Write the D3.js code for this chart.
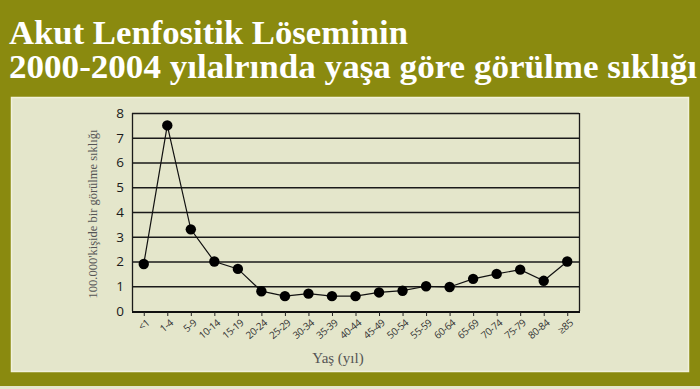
<!DOCTYPE html>
<html>
<head>
<meta charset="utf-8">
<script src="https://cdn.jsdelivr.net/npm/d3@7"></script>
<style>
  html, body { margin: 0; padding: 0; background: #8a8a0f; }
  svg { display: block; }
</style>
</head>
<body>
<svg id="chart" width="700" height="389"></svg>
<script>
// age groups and incidence per 100,000
const ageGroups = ['<1', '1-4', '5-9', '10-14', '15-19', '20-24', '25-29', '30-34', '35-39', '40-44',
                   '45-49', '50-54', '55-59', '60-64', '65-69', '70-74', '75-79', '80-84', '≥85'];
const incidence = [1.9, 7.5, 3.3, 2.0, 1.7, 0.8, 0.6, 0.7, 0.6, 0.6,
                   0.75, 0.82, 1.0, 0.97, 1.3, 1.5, 1.67, 1.22, 2.0];
const yTicks = [0, 1, 2, 3, 4, 5, 6, 7, 8];
const titleLines = ['Akut Lenfositik Löseminin', '2000-2004 yılalrında yaşa göre görülme sıklığı'];

const svg = d3.select('#chart');
const W = 700, H = 389;

svg.append('rect').attr('width', W).attr('height', H).attr('fill', '#8a8a0f');
svg.append('rect').attr('x', 0).attr('y', 386).attr('width', W).attr('height', 3).attr('fill', '#e6e7cd');

// title
const titleWidths = [399, 688];
titleLines.forEach((t, i) => {
    svg.append('text')
        .attr('x', 9).attr('y', 44 + i * 34)
        .attr('fill', '#fff')
        .attr('font-family', '"Liberation Serif", "Times New Roman", serif')
        .attr('font-weight', 'bold')
        .attr('font-size', 33)
        .attr('textLength', titleWidths[i])
        .attr('lengthAdjust', 'spacingAndGlyphs')
        .text(t);
});

// light panel
svg.append('rect')
    .attr('x', 11.5).attr('y', 97.5).attr('width', 677).attr('height', 274)
    .attr('fill', '#e4e6cb').attr('stroke', '#f1f2dc').attr('stroke-width', 1.5);

const m = { left: 132, right: 579, top: 113, bottom: 311 };

const x = d3.scalePoint().domain(ageGroups).range([m.left, m.right]).padding(0.5);
const y = d3.scaleLinear().domain([0, 8]).range([m.bottom, m.top]);

const g = svg.append('g');

// gridlines
g.selectAll('line.grid').data(yTicks.slice(1)).join('line')
    .attr('class', 'grid')
    .attr('x1', m.left).attr('x2', m.right)
    .attr('y1', d => y(d) + 0.5).attr('y2', d => y(d) + 0.5)
    .attr('stroke', '#1a1a1a').attr('stroke-width', 1.3);

// frame sides
g.append('line').attr('x1', m.left + 0.5).attr('x2', m.left + 0.5).attr('y1', m.top).attr('y2', m.bottom)
    .attr('stroke', '#1a1a1a').attr('stroke-width', 1.3);
g.append('line').attr('x1', m.right + 0.5).attr('x2', m.right + 0.5).attr('y1', m.top).attr('y2', m.bottom)
    .attr('stroke', '#1a1a1a').attr('stroke-width', 1.3);

// y tick labels
g.selectAll('text.ytick').data(yTicks).join('text')
    .attr('class', 'ytick')
    .attr('x', m.left - 8).attr('y', d => y(d))
    .attr('dy', '0.36em')
    .attr('text-anchor', 'end')
    .attr('font-family', '"Open Sans", sans-serif')
    .attr('font-size', 13.5)
    .attr('fill', '#1a1a1a')
    .text(d => d);

// x axis
const xAxis = g.append('g')
    .attr('transform', `translate(0,${m.bottom + 1})`)
    .call(d3.axisBottom(x).tickSize(4).tickSizeOuter(0));
xAxis.select('.domain').attr('stroke', '#111').attr('stroke-width', 2.2)
    .attr('d', `M${m.left},0H${m.right + 1}`);
xAxis.selectAll('.tick line').attr('stroke', '#222').attr('stroke-width', 1);
xAxis.selectAll('.tick text')
    .attr('font-family', '"Open Sans", sans-serif')
    .attr('font-size', 10)
    .attr('letter-spacing', -0.4)
    .attr('fill', '#333')
    .attr('text-anchor', 'end')
    .attr('y', 0).attr('dy', 0)
    .attr('transform', 'translate(6,12) rotate(-40)');

// line + points
const line = d3.line().x((d, i) => x(ageGroups[i])).y(d => y(d));
g.append('path').datum(incidence)
    .attr('d', line).attr('fill', 'none').attr('stroke', '#111').attr('stroke-width', 1.2);
g.selectAll('circle').data(incidence).join('circle')
    .attr('cx', (d, i) => x(ageGroups[i])).attr('cy', d => y(d))
    .attr('r', 5.2).attr('fill', '#000');

// axis titles
svg.append('text')
    .attr('transform', 'translate(97,214) rotate(-90)')
    .attr('text-anchor', 'middle')
    .attr('font-family', '"Liberation Serif", serif')
    .attr('font-size', 12.5)
    .attr('fill', '#555')
    .text('100.000\'kişide bir görülme sıklığı');
svg.append('text')
    .attr('x', 338).attr('y', 363)
    .attr('text-anchor', 'middle')
    .attr('font-family', '"Liberation Serif", serif')
    .attr('font-size', 15)
    .attr('fill', '#555')
    .text('Yaş (yıl)');
</script>
</body>
</html>
